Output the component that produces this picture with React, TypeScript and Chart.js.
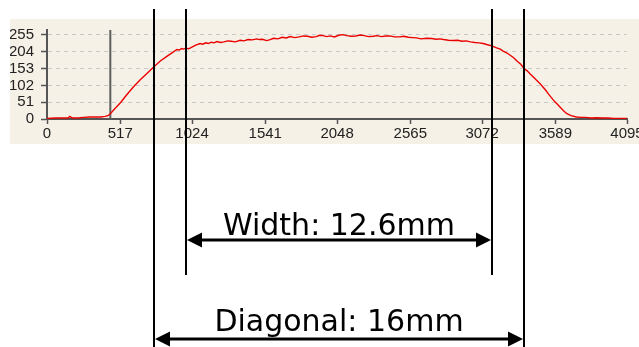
import React, { useEffect, useRef } from "react";
import { Chart, registerables } from "chart.js";

Chart.register(...registerables);

// Intensity profile (pixel index vs. grey level)
const profileX = [0, 60, 120, 150, 160, 180, 230, 260, 300, 340, 380, 410, 430, 447, 480, 520, 560, 611, 660, 700, 757, 800, 846, 880, 917, 935, 950, 965, 980, 1000, 1023, 1050, 1081, 1100, 1120, 1140, 1160, 1180, 1199, 1225, 1250, 1275, 1300, 1330, 1364, 1390, 1420, 1450, 1480, 1500, 1520, 1552, 1575, 1600, 1630, 1660, 1690, 1716, 1750, 1780, 1810, 1840, 1870, 1900, 1925, 1949, 1975, 2000, 2030, 2060, 2090, 2116, 2150, 2180, 2210, 2240, 2270, 2302, 2330, 2360, 2390, 2420, 2455, 2492, 2520, 2550, 2580, 2609, 2640, 2680, 2715, 2750, 2775, 2800, 2835, 2868, 2900, 2930, 2960, 2990, 3020, 3050, 3080, 3104, 3140, 3175, 3200, 3220, 3245, 3268, 3295, 3320, 3345, 3367, 3390, 3410, 3430, 3455, 3480, 3500, 3520, 3540, 3574, 3600, 3620, 3645, 3668, 3700, 3738, 3770, 3800, 3840, 3880, 3920, 3960, 4000, 4044, 4095];
const profileY = [2, 3, 3, 3, 8, 3, 4, 5, 6, 6, 6, 8, 10, 16, 32, 50, 72, 98, 120, 136, 159, 176, 190, 200, 211, 209, 214, 212, 215, 213, 218, 224, 229, 227, 231, 229, 233, 231, 235, 232, 234, 237, 236, 234, 239, 237, 241, 240, 243, 241, 242, 238, 241, 245, 243, 248, 246, 250, 247, 249, 252, 251, 248, 250, 254, 253, 250, 252, 249, 254, 256, 253, 251, 252, 255, 253, 250, 251, 253, 250, 252, 252, 249, 249, 251, 248, 247, 246, 243, 245, 244, 242, 243, 241, 239, 238, 239, 236, 237, 234, 232, 231, 229, 226, 222, 216, 212, 206, 201, 194, 186, 175, 166, 154, 146, 137, 129, 118, 108, 98, 88, 76, 58, 46, 37, 26, 17, 10, 6, 5, 5, 3, 4, 3, 3, 2, 2, 2];

// Grey marker line position
const markerX = [447, 447];
const markerY = [0, 270];

// Axis ticks
const xTicks = [0, 517, 1024, 1541, 2048, 2565, 3072, 3589, 4095];
const yTicks = [0, 51, 102, 153, 204, 255];

// Dimension annotations (in pixel-index units of the x axis)
const widthLines = [981, 3143];
const diagonalLines = [755, 3368];
const widthLabel = "Width: 12.6mm";
const diagonalLabel = "Diagonal: 16mm";

function drawArrow(ctx: CanvasRenderingContext2D, x1: number, x2: number, y: number) {
  const head = 15;
  const half = 7.5;
  ctx.save();
  ctx.strokeStyle = "#000";
  ctx.fillStyle = "#000";
  ctx.lineWidth = 3;
  ctx.beginPath();
  ctx.moveTo(x1 + head - 2, y);
  ctx.lineTo(x2 - head + 2, y);
  ctx.stroke();
  ctx.beginPath();
  ctx.moveTo(x1, y);
  ctx.lineTo(x1 + head, y - half);
  ctx.lineTo(x1 + head, y + half);
  ctx.closePath();
  ctx.fill();
  ctx.beginPath();
  ctx.moveTo(x2, y);
  ctx.lineTo(x2 - head, y - half);
  ctx.lineTo(x2 - head, y + half);
  ctx.closePath();
  ctx.fill();
  ctx.restore();
}

const backgroundPlugin = {
  id: "bgPanel",
  beforeDraw(chart: any) {
    const ctx = chart.ctx;
    ctx.save();
    ctx.fillStyle = "#ffffff";
    ctx.fillRect(0, 0, chart.width, chart.height);
    ctx.fillStyle = "#f5f1e7";
    ctx.fillRect(10, 19, chart.width - 10, 125);
    ctx.restore();
  },
};

const annotationPlugin = {
  id: "dimAnnotations",
  afterDraw(chart: any) {
    const ctx = chart.ctx as CanvasRenderingContext2D;
    const xs = chart.scales.x;
    const top = 9;
    const innerBottom = 275;
    const outerBottom = chart.height;
    const [wl, wr] = widthLines.map((v) => Math.round(xs.getPixelForValue(v)));
    const [dl, dr] = diagonalLines.map((v) => Math.round(xs.getPixelForValue(v)));
    ctx.save();
    ctx.strokeStyle = "#000";
    ctx.lineWidth = 2;
    ctx.beginPath();
    ctx.moveTo(wl, top);
    ctx.lineTo(wl, innerBottom);
    ctx.moveTo(wr, top);
    ctx.lineTo(wr, innerBottom);
    ctx.moveTo(dl, top);
    ctx.lineTo(dl, outerBottom);
    ctx.moveTo(dr, top);
    ctx.lineTo(dr, outerBottom);
    ctx.stroke();
    ctx.restore();

    drawArrow(ctx, wl + 1, wr - 1, 240);
    drawArrow(ctx, dl + 1, dr - 1, 339);

    ctx.save();
    ctx.fillStyle = "#000";
    ctx.font = '30px "DejaVu Sans"';
    ctx.textAlign = "center";
    ctx.textBaseline = "alphabetic";
    ctx.fillText(widthLabel, (wl + wr) / 2, 235);
    ctx.fillText(diagonalLabel, (dl + dr) / 2, 331);
    ctx.restore();
  },
};

export default function App() {
  const ref = useRef<HTMLCanvasElement | null>(null);

  useEffect(() => {
    if (!ref.current) return;
    const chart = new Chart(ref.current, {
      type: "line",
      data: {
        datasets: [
          {
            data: profileX.map((x, i) => ({ x, y: profileY[i] })),
            borderColor: "rgb(235,0,0)",
            borderWidth: 1.4,
            pointRadius: 0,
            tension: 0,
          },
          {
            data: markerX.map((x, i) => ({ x, y: markerY[i] })),
            borderColor: "#5e5e5e",
            borderWidth: 2,
            pointRadius: 0,
          },
        ],
      },
      plugins: [backgroundPlugin, annotationPlugin],
      options: {
        responsive: false,
        animation: false,
        events: [],
        layout: { padding: { left: 10, top: 30, right: 12, bottom: 203 } },
        plugins: { legend: { display: false }, tooltip: { enabled: false } },
        scales: {
          x: {
            type: "linear",
            min: 0,
            max: 4095,
            afterBuildTicks: (s: any) => {
              s.ticks = xTicks.map((v) => ({ value: v }));
            },
            afterFit: (s: any) => {
              s.height = 25;
              s.paddingLeft = 0;
              s.paddingRight = 0;
            },
            grid: { drawOnChartArea: false, tickLength: 5, tickColor: "#555", tickWidth: 1.5 },
            border: { color: "#555", width: 2 },
            ticks: {
              autoSkip: false,
              maxRotation: 0,
              padding: 1,
              color: "#222",
              font: { family: '"Liberation Sans Narrow", "Liberation Sans", Arial', size: 15 },
              callback: (v: any) => String(v),
            },
          },
          y: {
            min: 0,
            max: 270,
            afterBuildTicks: (s: any) => {
              s.ticks = yTicks.map((v) => ({ value: v }));
            },
            afterFit: (s: any) => {
              s.width = 37;
              s.paddingTop = 0;
              s.paddingBottom = 0;
            },
            grid: { color: "#c9c9c9", lineWidth: 1, tickLength: 6, tickColor: "#555", tickWidth: 1.5 },
            border: { color: "#555", width: 2, dash: [4, 4] },
            ticks: {
              autoSkip: false,
              padding: 7,
              color: "#222",
              font: { family: '"Liberation Sans Narrow", "Liberation Sans", Arial', size: 15 },
              callback: (v: any) => String(v),
            },
          },
        },
      },
    });
    return () => chart.destroy();
  }, []);

  return (
    <div style={{ position: "absolute", left: 0, top: 0, width: 639, height: 347 }}>
      <canvas ref={ref} width={639} height={347} style={{ width: 639, height: 347, display: "block" }} />
    </div>
  );
}
